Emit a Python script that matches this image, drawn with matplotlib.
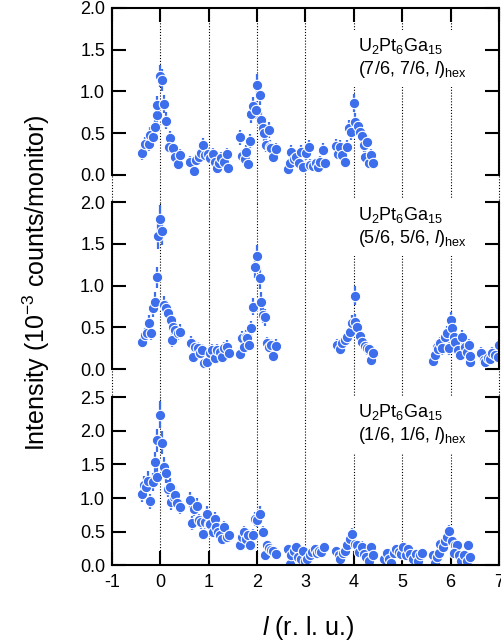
import numpy as np
import matplotlib.pyplot as plt

plt.rcParams['font.family'] = 'Liberation Sans'
plt.rcParams['mathtext.fontset'] = 'custom'
plt.rcParams['mathtext.rm'] = 'Liberation Sans'
plt.rcParams['mathtext.it'] = 'Liberation Sans:italic'

blue = '#3D6EEB'

# (7/6, 7/6, l)
l_76 = [-0.37, -0.32, -0.24, -0.21, -0.16, -0.12, -0.08, -0.06, -0.01, 0.03, 0.08, 0.12, 0.19, 0.17, 0.26,
        0.31, 0.36, 0.40, 0.62, 0.69, 0.74, 0.79, 0.83, 0.88, 0.93, 0.98, 1.03, 1.08, 1.12, 1.17, 1.21, 1.26,
        1.31, 1.37, 1.39, 1.64, 1.69, 1.74, 1.77, 1.81, 1.85, 1.88, 1.92, 1.97, 2.00, 2.05, 2.08, 2.12, 2.15,
        2.24, 2.19, 2.26, 2.29, 2.33, 2.40, 2.63, 2.68, 2.70, 2.76, 2.81, 2.86, 2.90, 2.95, 3.02, 3.07, 3.10,
        3.16, 3.21, 3.26, 3.31, 3.37, 3.41, 3.64, 3.67, 3.71, 3.76, 3.81, 3.86, 3.90, 3.94, 4.00, 4.03, 4.08,
        4.12, 4.17, 4.21, 4.24, 4.28, 4.31, 4.36, 4.40]
I_76 = [0.26, 0.37, 0.37, 0.48, 0.46, 0.57, 0.72, 0.84, 1.19, 1.14, 0.85, 0.65, 0.44, 0.34, 0.32,
        0.22, 0.13, 0.24, 0.16, 0.05, 0.18, 0.22, 0.26, 0.36, 0.24, 0.25, 0.20, 0.25, 0.16, 0.08, 0.14, 0.20,
        0.15, 0.25, 0.08, 0.45, 0.23, 0.19, 0.28, 0.13, 0.41, 0.73, 0.83, 0.78, 1.08, 0.96, 0.66, 0.56, 0.50,
        0.54, 0.36, 0.34, 0.32, 0.22, 0.31, 0.07, 0.14, 0.28, 0.19, 0.22, 0.14, 0.28, 0.10, 0.26, 0.34, 0.12,
        0.11, 0.14, 0.10, 0.16, 0.30, 0.14, 0.35, 0.25, 0.34, 0.24, 0.15, 0.34, 0.56, 0.51, 0.86, 0.64, 0.59,
        0.51, 0.47, 0.36, 0.22, 0.40, 0.14, 0.24, 0.14]

# (5/6, 5/6, l)
l_56 = [-0.37, -0.32, -0.28, -0.23, -0.19, -0.16, -0.12, -0.08, -0.05, 0.00, 0.04, 0.08, 0.12, 0.16, 0.21,
        0.24, 0.26, 0.31, 0.36, 0.41, 0.63, 0.68, 0.72, 0.77, 0.81, 0.86, 0.90, 0.97, 1.03, 1.07, 1.12, 1.17,
        1.23, 1.28, 1.32, 1.37, 1.41, 1.64, 1.69, 1.72, 1.76, 1.79, 1.83, 1.88, 1.92, 1.95, 2.00, 2.05, 2.09,
        2.12, 2.17, 2.21, 2.24, 2.28, 2.33, 2.40, 3.66, 3.71, 3.76, 3.81, 3.86, 3.92, 3.97, 4.02, 4.02, 4.07,
        4.12, 4.17, 4.22, 4.28, 4.31, 4.36, 4.40, 5.64, 5.68, 5.71, 5.74, 5.78, 5.83, 5.88, 5.93, 5.97, 6.00,
        6.03, 6.07, 6.10, 6.15, 6.19, 6.24, 6.29, 6.34, 6.38, 6.41, 6.40, 6.63, 6.68, 6.72, 6.77, 6.81, 6.86,
        6.91, 6.97, 7.00]
I_56 = [0.33, 0.41, 0.43, 0.55, 0.43, 0.73, 0.81, 1.10, 1.59, 1.80, 1.65, 0.77, 0.73, 0.67, 0.59,
        0.35, 0.51, 0.47, 0.43, 0.45, 0.32, 0.15, 0.27, 0.25, 0.19, 0.23, 0.07, 0.09, 0.19, 0.23, 0.13, 0.23,
        0.21, 0.15, 0.25, 0.27, 0.19, 0.18, 0.37, 0.27, 0.39, 0.37, 0.29, 0.49, 0.75, 1.22, 1.35, 1.09, 0.81,
        0.65, 0.62, 0.31, 0.27, 0.29, 0.16, 0.28, 0.29, 0.24, 0.31, 0.35, 0.39, 0.44, 0.55, 0.88, 0.57, 0.51,
        0.40, 0.33, 0.28, 0.25, 0.24, 0.11, 0.20, 0.10, 0.17, 0.27, 0.24, 0.31, 0.25, 0.39, 0.43, 0.25, 0.59,
        0.49, 0.39, 0.33, 0.23, 0.17, 0.39, 0.27, 0.21, 0.29, 0.09, 0.16, 0.19, 0.11, 0.09, 0.13, 0.12, 0.19,
        0.17, 0.15, 0.29]

# (1/6, 1/6, l)
l_16 = [-0.38, -0.34, -0.30, -0.26, -0.21, -0.16, -0.12, -0.08, -0.06, 0.00, 0.04, 0.08, 0.12, 0.16, 0.19,
        0.22, 0.28, 0.31, 0.35, 0.40, 0.62, 0.66, 0.70, 0.76, 0.79, 0.83, 0.88, 0.92, 0.97, 1.00, 1.03, 1.09,
        1.12, 1.16, 1.19, 1.24, 1.28, 1.32, 1.37, 1.41, 1.64, 1.69, 1.72, 1.77, 1.81, 1.85, 1.92, 1.95, 2.00,
        2.05, 2.12, 2.16, 2.21, 2.24, 2.29, 2.33, 2.40, 2.63, 2.68, 2.70, 2.76, 2.81, 2.84, 2.90, 2.95, 2.98,
        3.03, 3.09, 3.14, 3.19, 3.24, 3.28, 3.32, 3.39, 3.64, 3.69, 3.72, 3.77, 3.81, 3.86, 3.92, 3.97, 4.02,
        4.07, 4.10, 4.16, 4.21, 4.26, 4.31, 4.36, 4.40, 4.62, 4.68, 4.72, 4.77, 4.83, 4.88, 4.93, 4.98, 5.02,
        5.07, 5.12, 5.17, 5.23, 5.28, 5.32, 5.37, 5.41, 5.64, 5.68, 5.71, 5.75, 5.79, 5.84, 5.88, 5.93, 5.97,
        6.03, 6.09, 6.14, 6.08, 6.17, 6.22, 6.28, 6.33, 6.36, 6.41]
I_16 = [1.06, 1.19, 1.16, 1.26, 0.95, 1.24, 1.53, 1.32, 1.86, 2.24, 1.82, 1.46, 1.37, 1.14, 1.17,
        0.94, 1.01, 1.05, 0.92, 0.87, 0.97, 0.63, 0.84, 0.89, 0.67, 0.64, 0.46, 0.64, 0.77, 0.62, 0.61, 0.50,
        0.69, 0.57, 0.50, 0.45, 0.40, 0.57, 0.42, 0.45, 0.30, 0.42, 0.50, 0.40, 0.45, 0.31, 0.45, 0.69, 0.67,
        0.77, 0.50, 0.16, 0.30, 0.26, 0.23, 0.22, 0.17, 0.25, 0.02, 0.15, 0.22, 0.27, 0.12, 0.10, 0.22, 0.06,
        0.10, 0.15, 0.20, 0.25, 0.18, 0.22, 0.20, 0.27, 0.22, 0.15, 0.10, 0.18, 0.22, 0.30, 0.40, 0.47, 0.32,
        0.30, 0.20, 0.28, 0.17, 0.12, 0.07, 0.27, 0.16, 0.10, 0.18, 0.10, 0.03, 0.18, 0.25, 0.20, 0.17, 0.27,
        0.15, 0.25, 0.17, 0.10, 0.17, 0.07, 0.15, 0.18, 0.15, 0.03, 0.12, 0.18, 0.32, 0.27, 0.37, 0.42, 0.51,
        0.37, 0.31, 0.30, 0.18, 0.15, 0.07, 0.16, 0.07, 0.30, 0.12]

panels = [
    (l_76, I_76, '(7/6, 7/6, $\\mathit{l}$)$_{\\rm hex}$', 2.0),
    (l_56, I_56, '(5/6, 5/6, $\\mathit{l}$)$_{\\rm hex}$', 2.0),
    (l_16, I_16, '(1/6, 1/6, $\\mathit{l}$)$_{\\rm hex}$', 2.5),
]

fig = plt.figure(figsize=(5.02, 6.44), dpi=100)
left, width = 0.2231, 0.7709
boxes = [(0.7283, 0.2593), (0.4266, 0.2597), (0.1219, 0.2616)]
text_y = [0.70, 0.85, 0.84]

for i, ((l, I, label, ytop), (bottom, height)) in enumerate(zip(panels, boxes)):
    ax = fig.add_axes([left, bottom, width, height])
    ax.set_facecolor('none')
    l = np.array(l)
    I = np.array(I)
    # counting error, grows with intensity
    err = 0.06 + 0.06 * I

    gap = 0.17 if i < 2 else 0.0
    for xv in range(-1, 8):
        ax.axvline(xv, ymin=-gap, ymax=1, color='k', lw=0.8, ls=(0, (1, 1.6)),
                   clip_on=False, zorder=1)

    ax.errorbar(l, I, yerr=err, fmt='o', color=blue, ms=7.5, mec='white', mew=0.8,
                elinewidth=1.6, capsize=0, zorder=2)

    ax.text(4.08, text_y[i] * ytop, 'U$_2$Pt$_6$Ga$_{15}$\n' + label, fontsize=13,
            ha='left', va='center', linespacing=1.25, zorder=2.4,
            bbox=dict(boxstyle='square,pad=0.35', facecolor='white', edgecolor='none'))

    ax.set_xlim(-1, 7)
    ax.set_ylim(0, ytop)
    ax.set_yticks(np.arange(0, ytop + 0.01, 0.5))
    ax.yaxis.set_major_formatter(plt.FormatStrFormatter('%.1f'))
    ax.set_xticks(np.arange(-1, 8))
    ax.tick_params(axis='y', which='both', direction='in', left=True, right=True,
                   length=10, width=1.5, labelsize=13, pad=5)
    for s in ax.spines.values():
        s.set_linewidth(1.5)
    ax.spines['top'].set_visible(i == 0)
    ax.spines['bottom'].set_visible(i == 2)
    if i == 0:
        ax.tick_params(axis='x', direction='in', top=True, bottom=False, labelbottom=False,
                       length=10, width=1.5)
    elif i == 1:
        ax.tick_params(axis='x', bottom=False, top=False, labelbottom=False)
    else:
        ax.tick_params(axis='x', direction='in', top=False, bottom=True, length=10,
                       width=1.5, labelsize=13, pad=6)
        ax.set_xticklabels(['-1', '0', '1', '2', '3', '4', '5', '6', '7'])

fig.text(36 / 502, 0.562, 'Intensity (10$^{-3}$ counts/monitor)', rotation=90,
         ha='center', va='center', fontsize=18)
fig.text(0.6135, 0.0248, '$\\mathit{l}$ (r. l. u.)', ha='center', va='center', fontsize=18)

fig.savefig('out.png', dpi=100)
